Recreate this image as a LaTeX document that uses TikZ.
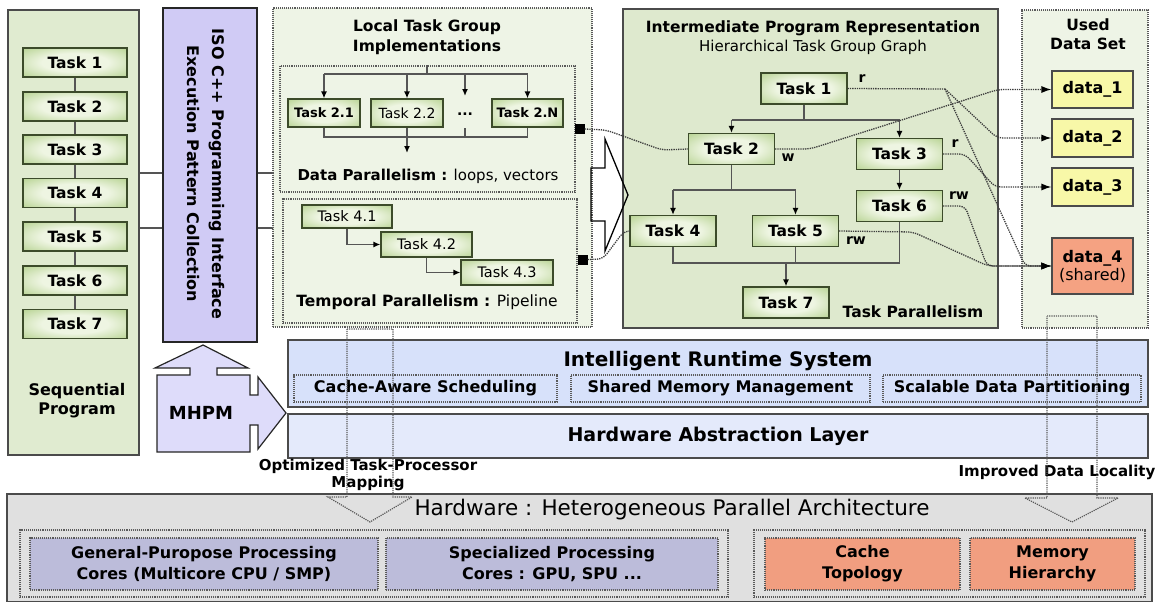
\documentclass[tikz,border=0pt]{standalone}
\usepackage{fontspec}
\setmainfont{DejaVu Sans}
\usetikzlibrary{arrows.meta}

\definecolor{edgecol}{RGB}{75,75,75}
\definecolor{dotcol}{RGB}{90,90,90}
\definecolor{linecol}{RGB}{85,85,85}
\definecolor{dcol}{RGB}{60,60,60}
\definecolor{taskin}{RGB}{238,245,226}
\definecolor{taskout}{RGB}{172,204,130}
\definecolor{taskedge}{RGB}{60,75,42}
\definecolor{seqfill}{RGB}{224,235,208}
\definecolor{isofill}{RGB}{208,203,245}
\definecolor{mhpmfill}{RGB}{222,220,250}
\definecolor{paleg}{RGB}{238,244,230}
\definecolor{irfill}{RGB}{222,233,206}
\definecolor{yel}{RGB}{248,248,168}
\definecolor{salmon}{RGB}{245,162,130}
\definecolor{rtfill}{RGB}{215,225,250}
\definecolor{halfill}{RGB}{228,234,251}
\definecolor{hwfill}{RGB}{224,224,224}
\definecolor{corefill}{RGB}{188,188,218}
\definecolor{memfill}{RGB}{241,158,128}

\pgfdeclareradialshading{taskglow}{\pgfpoint{0bp}{0bp}}{color(0bp)=(taskin); color(16bp)=(taskin); color(40bp)=(taskout); color(72bp)=(taskout)}

\newcommand\fz[2]{\fontsize{#1}{#2}\selectfont}

\begin{document}
\begin{tikzpicture}[x=1pt,y=-1pt,
  panel/.style={draw=edgecol, line width=1.2pt, inner sep=0pt},
  dotbox/.style={draw=dotcol, densely dotted, line width=1.1pt, inner sep=0pt},
  taskbox/.style={draw=taskedge, line width=1.2pt, shading=taskglow, inner sep=0pt, minimum height=30},
  bigtask/.style={taskbox, minimum width=86, minimum height=31, font=\bfseries\fz{15.5}{18}},
  gline/.style={draw=linecol, line width=1.5pt},
  garrow/.style={gline, -{Latex[length=7pt,width=6pt,color=black]}},
  dline/.style={draw=dcol, densely dotted, line width=1.3pt, rounded corners=6pt},
  darrow/.style={dline, -{Latex[length=10pt,width=7pt,color=black]}},
  ddarrow/.style={draw=dotcol, densely dotted, line width=1.2pt},
  tag/.style={font=\bfseries\fz{14}{16}, inner sep=0pt},
  datab/.style={panel, line width=1.1pt, minimum width=81, font=\bfseries\fz{16}{19}, align=center},
  sq/.style={fill=black, minimum size=10, inner sep=0pt}
]
\useasboundingbox (0,0) rectangle (1159,602);

% ---------- sequential program ----------
\node[panel, fill=seqfill, minimum width=131, minimum height=445] (seq) at (73.5,232.5) {};
\foreach \i/\y in {1/62.5,2/106.5,3/149.5,4/193,5/236.5,6/280.5,7/324}
  \node[taskbox, minimum width=104, minimum height=29, font=\bfseries\fz{15.5}{18}] (s\i) at (75,\y) {Task \i};
\foreach \a/\b in {1/2,2/3,3/4,4/5,5/6,6/7}
  \draw[gline] (s\a.south) -- (s\b.north);
\node[align=center, font=\bfseries\fz{16}{19}] (seqlbl) at (77,401) {Sequential\\Program};

% ---------- programming interface ----------
\node[panel, draw=black!85, fill=isofill, minimum width=94, minimum height=334] (iso) at (210,175) {};
\node[rotate=-90, align=center, font=\bfseries\fz{16}{25}] (isolbl) at (205.5,174) {ISO C++ Programming Interface\\Execution Pattern Collection};
\coordinate (ya) at (0,173);
\coordinate (yb) at (0,228);
\draw[gline] (seq.east |- ya) -- (iso.west |- ya);
\draw[gline] (seq.east |- yb) -- (iso.west |- yb);
\coordinate (brk) at (275,200);
\draw[gline] (iso.east |- ya) -| (brk) |- (iso.east |- yb);

% ---------- MHPM ----------
\filldraw[draw=black!85, fill=mhpmfill, line width=1.2pt]
  (157,375) -- (190,375) -- (190,368) -- (155,368) -- (203,345) -- (248,368)
  -- (217,368) -- (217,375) -- (250,375) -- (250,395) -- (258,395) -- (258,377)
  -- (286,413) -- (258,449) -- (258,425) -- (250,425) -- (250,452) -- (157,452) -- cycle;
\node[font=\bfseries\fz{18}{20}] (mhpm) at (201,413) {MHPM};

% ---------- local task group implementations ----------
\node[dotbox, fill=paleg, minimum width=319, minimum height=319] (lk) at (432.5,167.5) {};
\node[align=center, font=\bfseries\fz{15.5}{20}] (lktitle) at (427,37) {Local Task Group\\Implementations};
\node[dotbox, minimum width=295, minimum height=126] (dp) at (427.5,129) {};
\node[dotbox, minimum width=294, minimum height=124] (tp) at (430,261) {};

\node[taskbox, minimum width=72, minimum height=28, font=\bfseries\fz{13}{15}] (t21) at (324,113) {Task 2.1};
\node[taskbox, minimum width=72, minimum height=28, font=\fz{14}{16}] (t22) at (407,113) {Task 2.2};
\node[inner sep=0pt, minimum height=20, font=\bfseries\fz{14}{16}] (dots) at (465,114) {...};
\node[taskbox, minimum width=71, minimum height=28, font=\bfseries\fz{13}{15}] (t2N) at (527.5,113) {Task 2.N};

\coordinate (fk) at (427,74);
\draw[gline] (dp.north -| fk) -- (fk);
\draw[gline] (t21.north |- fk) -- (t2N.north |- fk);
\foreach \n in {t21,t22,t2N}
  \draw[garrow] (\n.north |- fk) -- (\n.north);
\draw[garrow] (dots.north |- fk) -- ++(0,22);
\coordinate (jn) at (407,137);
\draw[gline] (t21.south) -- (t21.south |- jn) -- (t2N.south |- jn) -- (t2N.south);
\draw[gline] (dots.south |- jn) -- ++(0,-9);
\draw[gline] (t22.south) -- (jn);
\draw[garrow] (jn) -- ++(0,16);
\node[font=\fz{15}{18}] (dplbl) at (428,176) {\textbf{Data Parallelism :} loops, vectors};

\node[taskbox, minimum width=90, minimum height=23, font=\fz{14.5}{16}] (t41) at (347,216.5) {Task 4.1};
\node[taskbox, minimum width=91, minimum height=25, font=\fz{14.5}{16}] (t42) at (426.5,244.5) {Task 4.2};
\node[taskbox, minimum width=92, minimum height=25, font=\fz{14.5}{16}] (t43) at (507,272.5) {Task 4.3};
\draw[garrow] (t41.south) |- (t42.west);
\draw[garrow] (t42.south) |- (t43.west);
\node[font=\fz{15.5}{18}] (tplbl) at (427,302) {\textbf{Temporal Parallelism :} Pipeline};

\node[sq] (sq1) at (579.5,129) {};
\node[sq] (sq2) at (582.5,259.5) {};

% ---------- intermediate program representation ----------
\node[panel, fill=irfill, minimum width=375, minimum height=319] (ir) at (810.5,168.5) {};
\node[font=\bfseries\fz{15.5}{18}] (irtitle) at (813,28) {Intermediate Program Representation};
\node[font=\fz{15}{18}] (irsub) at (813,47) {Hierarchical Task Group Graph};

\node[bigtask] (T1) at (804,88.5) {Task 1};
\node[bigtask] (T2) at (731.5,149) {Task 2};
\node[bigtask] (T3) at (899.5,154) {Task 3};
\node[bigtask] (T6) at (899.5,206) {Task 6};
\node[bigtask] (T4) at (673,231) {Task 4};
\node[bigtask] (T5) at (795.5,231) {Task 5};
\node[bigtask] (T7) at (786,302.5) {Task 7};

\coordinate (b1) at (804,120);
\draw[gline] (T1.south) -- (b1);
\draw[gline] (T2.north |- b1) -- (T3.north |- b1);
\draw[garrow] (T2.north |- b1) -- (T2.north);
\draw[garrow] (T3.north |- b1) -- (T3.north);
\coordinate (b2) at (731.5,190);
\draw[gline] (T2.south) -- (b2);
\draw[gline] (T4.north |- b2) -- (T5.north |- b2);
\draw[garrow] (T4.north |- b2) -- (T4.north);
\draw[garrow] (T5.north |- b2) -- (T5.north);
\draw[garrow] (T3.south) -- (T6.north);
\coordinate (b3) at (786,263);
\draw[gline] (T4.south) -- (T4.south |- b3) -- (T6.south |- b3) -- (T6.south);
\draw[gline] (T5.south) -- (T5.south |- b3);
\draw[garrow] (b3) -- (T7.north);
\node[font=\bfseries\fz{15.5}{18}] (tplab) at (913,312) {Task Parallelism};

% access tags
\node[tag] (r1) at (862,79) {r};
\node[tag] (w2) at (788,158) {w};
\node[tag] (r3) at (955,144) {r};
\node[tag] (rw6) at (959,196) {rw};
\node[tag] (rw5) at (856,241) {rw};

% ---------- used data set ----------
\node[dotbox, fill=paleg, minimum width=126, minimum height=318] (uds) at (1085,169) {};
\node[align=center, font=\bfseries\fz{15.5}{19}] (udstitle) at (1088,34) {Used\\Data Set};
\node[datab, fill=yel, minimum height=37] (d1) at (1092.5,89.5) {data\_1};
\node[datab, fill=yel, minimum height=38] (d2) at (1092.5,138) {data\_2};
\node[datab, fill=yel, minimum height=38] (d3) at (1092.5,187) {data\_3};
\node[datab, fill=salmon, minimum height=56] (d4) at (1092.5,266) {data\_4\\[-1pt]{\mdseries (shared)}};

% big hollow arrow into the graph
\draw[black, line width=1.3pt, line join=miter]
  (591,168) -- (605,168) -- (605,139) -- (628,195) -- (605,251) -- (605,221) -- (591,221) -- cycle;

% links from the local groups into the graph
\draw[dline] (sq1.east) -- (606,130) -- (662,150) -- (T2.west);
\draw[dline] (sq2.east) -- (603,259) -- (624,231) -- (T4.west);

% data accesses
\coordinate (ra) at (945,89);
\draw[darrow] (T2.east) -- (810,149) -- (998,89.5) -- (d1.west);
\draw[dline] (T1.east) -- (ra);
\draw[darrow] (ra) -- (997,138) -- (d2.west);
\draw[darrow] (ra) -- (1025,266) -- (d4.west);
\draw[darrow] (T3.east) -- (965,154) -- (995,187) -- (d3.west);
\draw[darrow] (T6.east) -- (965,206) -- (987,266) -- (d4.west);
\draw[darrow] (T5.east) -- (913,232) -- (988,266) -- (d4.west);

% ---------- runtime and abstraction layer ----------
\node[panel, fill=rtfill, minimum width=860, minimum height=67] (rts) at (718,373.5) {};
\node[font=\bfseries\fz{20}{22}] (rtstitle) at (718,361) {Intelligent Runtime System};
\node[dotbox, minimum width=263, minimum height=27, font=\bfseries\fz{16}{18}] (cas) at (425.5,388.5) {Cache-Aware Scheduling};
\node[dotbox, minimum width=299, minimum height=27, font=\bfseries\fz{16}{18}] (smm) at (720.5,388.5) {Shared Memory Management};
\node[dotbox, minimum width=258, minimum height=27, font=\bfseries\fz{16}{18}] (sdp) at (1012,388.5) {Scalable Data Partitioning};
\node[panel, fill=halfill, minimum width=860, minimum height=44, font=\bfseries\fz{19}{22}] (hal) at (718,436) {Hardware Abstraction Layer};

\node[align=center, font=\bfseries\fz{15}{17}] (optlbl) at (368,475) {Optimized Task-Processor\\Mapping};
\node[font=\bfseries\fz{15}{17}] (loclbl) at (1057,472) {Improved Data Locality};

% ---------- hardware ----------
\node[panel, fill=hwfill, minimum width=1145, minimum height=108] (hw) at (579.5,548) {};
\node[font=\fz{21.5}{24}] (hwtitle) at (672,510) {Hardware : Heterogeneous Parallel Architecture};
\node[dotbox, minimum width=708, minimum height=67] (gl) at (374,563.5) {};
\node[dotbox, minimum width=391, minimum height=67] (gr) at (949.5,563.5) {};
\node[dotbox, fill=corefill, minimum width=348, minimum height=52, align=center, font=\bfseries\fz{16}{21}] (gp) at (204,564) {General-Puropose Processing\\Cores (Multicore CPU / SMP)};
\node[dotbox, fill=corefill, minimum width=332, minimum height=52, align=center, font=\bfseries\fz{16}{21}] (sp) at (552,564) {Specialized Processing\\Cores : GPU, SPU ...};
\node[dotbox, fill=memfill, minimum width=195, minimum height=52, align=center, font=\bfseries\fz{16}{21}] (ct) at (862.5,564) {Cache\\Topology};
\node[dotbox, fill=memfill, minimum width=165, minimum height=52, align=center, font=\bfseries\fz{16}{21}] (mh) at (1052.5,564) {Memory\\Hierarchy};

% ---------- dotted mapping arrows ----------
\draw[ddarrow] (347,329) -- (393,329) -- (393,497) -- (412,497) -- (370,522) -- (328,497) -- (347,497) -- cycle;
\draw[ddarrow] (1047,316) -- (1097,316) -- (1097,498) -- (1118,498) -- (1072,522) -- (1025,498) -- (1047,498) -- cycle;
\end{tikzpicture}
\end{document}
